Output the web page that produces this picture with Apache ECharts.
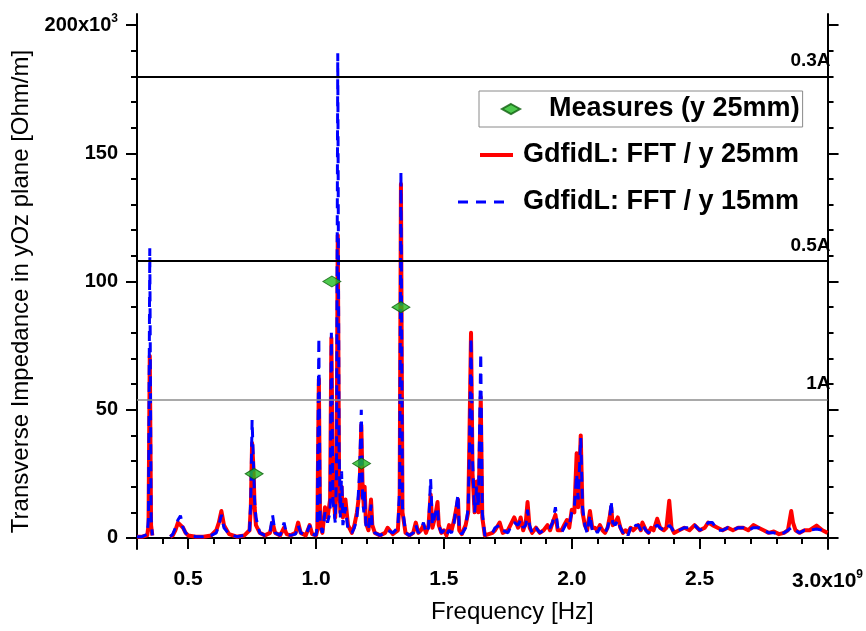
<!DOCTYPE html>
<html>
<head>
<meta charset="utf-8">
<script src="https://cdn.jsdelivr.net/npm/echarts@6/dist/echarts.min.js"></script>
<style>
html,body{margin:0;padding:0;background:#fff;}
#chart{width:866px;height:631px;}
</style>
</head>
<body>
<div id="chart"></div>
<script>
// Frequency in GHz (axis shows x10^9 Hz)
const freqGHz = [
  0.30, 0.32, 0.34, 0.345, 0.35, 0.355, 0.36, 0.40, 0.43, 0.44,
  0.45, 0.46, 0.47, 0.48, 0.49, 0.50, 0.53, 0.56, 0.59, 0.61,
  0.62, 0.63, 0.64, 0.66, 0.69, 0.72, 0.74, 0.745, 0.75, 0.755,
  0.76, 0.765, 0.78, 0.80, 0.82, 0.83, 0.84, 0.86, 0.875, 0.885,
  0.90, 0.92, 0.93, 0.94, 0.96, 0.975, 0.985, 1.00, 1.005, 1.011,
  1.016, 1.025, 1.035, 1.045, 1.055, 1.06, 1.066, 1.075, 1.08, 1.085,
  1.09, 1.095, 1.10, 1.105, 1.115, 1.125, 1.14, 1.15, 1.16, 1.17,
  1.177, 1.182, 1.187, 1.19, 1.195, 1.205, 1.215, 1.22, 1.23, 1.25,
  1.27, 1.28, 1.30, 1.32, 1.327, 1.332, 1.338, 1.35, 1.365, 1.38,
  1.39, 1.40, 1.41, 1.42, 1.43, 1.44, 1.448, 1.455, 1.465, 1.475,
  1.48, 1.49, 1.50, 1.51, 1.52, 1.53, 1.54, 1.555, 1.56, 1.57,
  1.585, 1.595, 1.60, 1.606, 1.612, 1.62, 1.628, 1.635, 1.644, 1.65,
  1.66, 1.69, 1.70, 1.718, 1.73, 1.75, 1.76, 1.775, 1.79, 1.80,
  1.81, 1.82, 1.827, 1.835, 1.845, 1.86, 1.875, 1.89, 1.905, 1.915,
  1.925, 1.936, 1.945, 1.96, 1.97, 1.981, 1.99, 2.00, 2.01, 2.019,
  2.025, 2.035, 2.042, 2.051, 2.06, 2.071, 2.08, 2.09, 2.10, 2.11,
  2.12, 2.13, 2.14, 2.148, 2.154, 2.16, 2.17, 2.18, 2.19, 2.20,
  2.21, 2.22, 2.23, 2.24, 2.25, 2.26, 2.27, 2.276, 2.29, 2.30,
  2.31, 2.32, 2.334, 2.345, 2.36, 2.37, 2.381, 2.39, 2.40, 2.42,
  2.44, 2.46, 2.48, 2.50, 2.52, 2.533, 2.55, 2.57, 2.59, 2.61,
  2.63, 2.65, 2.67, 2.69, 2.71, 2.73, 2.75, 2.77, 2.79, 2.81,
  2.83, 2.845, 2.858, 2.865, 2.875, 2.89, 2.91, 2.93, 2.957, 2.98,
  3.00
];
// GdfidL: FFT / y 25mm (kOhm/m)
const impY25 = [
  0.5, 0.5, 1, 5, 71, 5, 1, null, 0.5, 1,
  3, 6, 5, 4, 2, 1, 0.5, 0.5, 1, 3,
  6, 10.5, 5, 1.5, 0.5, 1, 3, 12, 37, 28,
  12, 5, 2, 1, 2, 6, 2, 1, 4, 1.5,
  1, 2, 6, 2, 1, 5, 1.5, 1, 3, 62,
  5, 2, 12, 8, 15, 78, 20, 8, 20, 118,
  25, 10, 20, 8, 15, 5, 2, 5, 10, 18,
  44, 20, 12, 20, 6, 3, 15, 5, 2, 1,
  2, 4, 1.5, 3, 15, 138, 10, 2, 1, 2,
  6, 2, 3, 5, 2, 5, 17, 4, 8, 14,
  5, 2, 3, 1, 5, 3, 7, 15, 3, 1.5,
  5, 10, 40, 80, 25, 10, 22, 10, 55, 8,
  1, 2, 3, 6, 2, 3, 5, 8, 4, 8,
  3, 6, 14, 4, 2, 4, 2, 3, 5, 3,
  6, 9, 3, 3, 5, 7, 4, 11, 10, 33,
  12, 40, 10, 5, 3, 10.5, 4, 4, 3, 5,
  3, 2, 4, 8, 12, 5, 6, 8, 4, 2,
  3, 2, 4, 3, 4, 5, 3, 6, 3, 2,
  4, 3, 7.5, 4, 3, 4, 14.5, 4, 2, 3,
  4, 3, 5, 3, 4, 6, 5, 4, 3, 4,
  3, 4, 4, 3, 5, 4, 3, 2, 2.5, 1.5,
  2, 3, 10.5, 6, 3, 2, 3, 3, 4.8, 3,
  2
];
// GdfidL: FFT / y 15mm (kOhm/m)
const impY15 = [
  0.5, 0.5, 1.5, 8, 113, 8, 1, null, 0.5, 1.5,
  4, 7, 8.7, 4, 2, 1, 0.5, 0.5, 1, 2,
  5, 9, 4, 1.5, 0.5, 1, 3, 15, 46, 30,
  14, 8, 2, 1, 2, 9, 2, 1, 6, 1.5,
  1, 1.5, 5, 2, 1, 5, 1.5, 1, 5, 78,
  6, 2, 10, 6, 10, 80, 15, 6, 25, 189,
  35, 8, 26, 5, 12, 3, 2, 4, 8, 25,
  50, 15, 10, 18, 5, 3, 13, 4, 2, 1,
  2, 3, 2, 4, 20, 143, 12, 2, 1, 2,
  5, 2, 3, 6, 2, 4, 23, 5, 9, 12,
  5, 2, 3, 1, 3, 2, 6, 17, 3, 1.5,
  4, 12, 35, 78, 30, 10, 20, 12, 72, 10,
  1, 2, 4, 5, 3, 2, 4, 6, 5, 7,
  4, 5, 11, 5, 2, 4, 2, 3, 4, 4,
  6, 12, 4, 2, 4, 6, 5, 10, 12, 25,
  15, 39, 12, 5, 2, 9, 3, 4, 2, 4,
  3, 2, 4, 7, 14.5, 6, 5, 7, 4, 2,
  3, 1, 4, 3, 5, 5, 3, 5, 3, 2,
  3, 4, 5, 4, 3, 3, 5, 4, 2, 3,
  4, 4, 5, 3, 4, 6, 6, 3, 3, 4,
  3, 4, 4, 3, 4, 4, 3, 2, 2, 1.5,
  2, 3, 4, 3, 3, 2, 3, 3, 3.5, 3,
  2
];
// Measures (y 25mm)
const measFreqGHz = [0.758, 1.062, 1.178, 1.332];
const measImp = [25, 100, 29, 90];
// Current thresholds
const thresholdValues = [180, 108, 54];
const thresholdLabels = ['0.3A', '0.5A', '1A'];
// Tick labels
const xMajorTicks = [0.5, 1.0, 1.5, 2.0, 2.5, 3.0];
const yMajorTicks = [0, 50, 100, 150, 200];

const xMinorTicks = [];
for (let i = 3; i <= 30; i++) { if (i % 5 !== 0) xMinorTicks.push(i / 10); }
const yMinorTicks = [];
for (let v = 10; v <= 200; v += 10) { if (v % 50 !== 0) yMinorTicks.push(v); }

const X_MIN = 0.3, X_MAX = 3.0, Y_MIN = -4.3, Y_MAX = 204.3;
const FONT = 'Arial, "Liberation Sans", sans-serif';

const redData = freqGHz.map((f, i) => [f, impY25[i]]);
const blueData = freqGHz.map((f, i) => [f, impY15[i]]);
const measData = measFreqGHz.map((f, i) => [f, measImp[i]]);

const thrStyles = [
  { color: '#000', width: 2 },
  { color: '#000', width: 2 },
  { color: '#8c8c8c', width: 1.5 }
];

const supRich = {
  sup: { fontSize: 12, fontWeight: 'bold', fontFamily: FONT, color: '#000', padding: [0, 0, 12, 0] }
};

function xAxisBase(extra) {
  return Object.assign({
    type: 'value', min: X_MIN, max: X_MAX, gridIndex: 0,
    splitLine: { show: false }
  }, extra);
}
function yAxisBase(extra) {
  return Object.assign({
    type: 'value', min: Y_MIN, max: Y_MAX, gridIndex: 0,
    splitLine: { show: false }
  }, extra);
}

const legendText = { fontFamily: FONT, fontSize: 27, fontWeight: 'bold', color: '#000', lineHeight: 30 };

const option = {
  animation: false,
  backgroundColor: '#fff',
  grid: { left: 137, right: 30, top: 14, bottom: 81, containLabel: false },
  xAxis: [
    xAxisBase({
      position: 'bottom',
      name: 'Frequency [Hz]', nameLocation: 'middle', nameGap: 49,
      nameTextStyle: { fontFamily: FONT, fontSize: 24, color: '#000', lineHeight: 28, padding: [0, 0, 0, 60] },
      axisLine: { show: true, lineStyle: { color: '#000', width: 2 } },
      axisTick: { show: true, inside: false, length: 11, lineStyle: { color: '#000', width: 2 }, customValues: xMajorTicks },
      axisLabel: {
        show: true, margin: 20, customValues: xMajorTicks,
        fontFamily: FONT, fontSize: 21, fontWeight: 'bold', color: '#000',
        formatter: v => (Math.abs(v - 3) < 1e-9 ? '3.0x10{sup|9}' : v.toFixed(1)),
        rich: supRich
      }
    }),
    xAxisBase({
      position: 'bottom',
      axisLine: { show: false },
      axisTick: { show: true, inside: false, length: 6, lineStyle: { color: '#000', width: 2 }, customValues: xMinorTicks },
      axisLabel: { show: false }
    }),
    xAxisBase({
      position: 'top',
      axisLine: { show: true, lineStyle: { color: '#000', width: 2 } },
      axisTick: { show: false },
      axisLabel: { show: false }
    })
  ],
  yAxis: [
    yAxisBase({
      position: 'left',
      name: 'Transverse Impedance in yOz plane [Ohm/m]', nameLocation: 'middle', nameGap: 100, nameRotate: 90,
      nameTextStyle: { fontFamily: FONT, fontSize: 24, color: '#000', padding: [0, 20, 0, 0] },
      axisLine: { show: true, lineStyle: { color: '#000', width: 2 } },
      axisTick: { show: true, inside: false, length: 11, lineStyle: { color: '#000', width: 2 }, customValues: yMajorTicks },
      axisLabel: {
        show: true, margin: 19, customValues: yMajorTicks,
        fontFamily: FONT, fontSize: 20, fontWeight: 'bold', color: '#000',
        formatter: v => (v === 200 ? '200x10{sup|3}' : String(v)),
        rich: supRich
      }
    }),
    yAxisBase({
      position: 'left',
      axisLine: { show: false },
      axisTick: { show: true, inside: false, length: 6, lineStyle: { color: '#000', width: 2 }, customValues: yMinorTicks },
      axisLabel: { show: false }
    }),
    yAxisBase({
      position: 'right',
      axisLine: { show: true, lineStyle: { color: '#000', width: 2 } },
      axisTick: { show: true, inside: false, length: 11, lineStyle: { color: '#000', width: 2 }, customValues: yMajorTicks },
      axisLabel: { show: false }
    }),
    yAxisBase({
      position: 'right',
      axisLine: { show: false },
      axisTick: { show: true, inside: false, length: 6, lineStyle: { color: '#000', width: 2 }, customValues: yMinorTicks },
      axisLabel: { show: false }
    })
  ],
  legend: [
    {
      data: ['Measures (y 25mm)'], selectedMode: false,
      left: 479, top: 91, orient: 'vertical',
      padding: [3, 3, 3, 22], borderColor: '#8a8a8a', borderWidth: 1,
      itemWidth: 18, itemHeight: 10,
      textStyle: Object.assign({}, legendText, { padding: [0, 0, 0, 24] })
    },
    {
      data: [{ name: 'GdfidL: FFT / y 25mm', icon: 'rect' }], selectedMode: false,
      left: 480, top: 140, orient: 'vertical', padding: 0,
      itemWidth: 33, itemHeight: 4,
      itemStyle: { color: '#ff0000' },
      textStyle: Object.assign({}, legendText, { padding: [0, 0, 0, 5] })
    },
    {
      data: [{ name: 'GdfidL: FFT / y 15mm', icon: 'path://M0,0h10v3h-10zM18,0h10v3h-10zM36,0h10v3h-10z' }], selectedMode: false,
      left: 458, top: 187, orient: 'vertical', padding: 0,
      itemWidth: 46, itemHeight: 3,
      itemStyle: { color: '#0000ff' },
      textStyle: Object.assign({}, legendText, { padding: [0, 0, 0, 14] })
    }
  ],
  series: [
    {
      name: 'GdfidL: FFT / y 25mm', type: 'line', xAxisIndex: 0, yAxisIndex: 0,
      data: redData, symbol: 'none', showSymbol: false, connectNulls: false,
      lineStyle: { color: '#ff0000', width: 4, join: 'round' },
      itemStyle: { color: '#ff0000' },
      z: 3,
      markLine: {
        silent: true, symbol: ['none', 'none'], animation: false,
        label: {
          show: true, position: 'insideEndTop', distance: [-3, 6],
          fontFamily: FONT, fontSize: 19, fontWeight: 'bold', color: '#000'
        },
        data: thresholdValues.map((v, i) => ({
          yAxis: v,
          lineStyle: { type: 'solid', color: thrStyles[i].color, width: thrStyles[i].width },
          label: { formatter: thresholdLabels[i] }
        }))
      }
    },
    {
      name: 'GdfidL: FFT / y 15mm', type: 'line', xAxisIndex: 0, yAxisIndex: 0,
      data: blueData, symbol: 'none', showSymbol: false, connectNulls: false,
      lineStyle: { color: '#0000ff', width: 3, type: [10, 7] },
      itemStyle: { color: '#0000ff' },
      z: 4
    },
    {
      name: 'Measures (y 25mm)', type: 'scatter', xAxisIndex: 0, yAxisIndex: 0,
      data: measData, symbol: 'diamond', symbolSize: [18, 11],
      itemStyle: { color: '#22bb22', borderColor: '#0b5e0b', borderWidth: 1 },
      z: 6
    }
  ]
};

const chart = echarts.init(document.getElementById('chart'), null, { renderer: 'canvas' });
chart.setOption(option);
</script>
</body>
</html>
